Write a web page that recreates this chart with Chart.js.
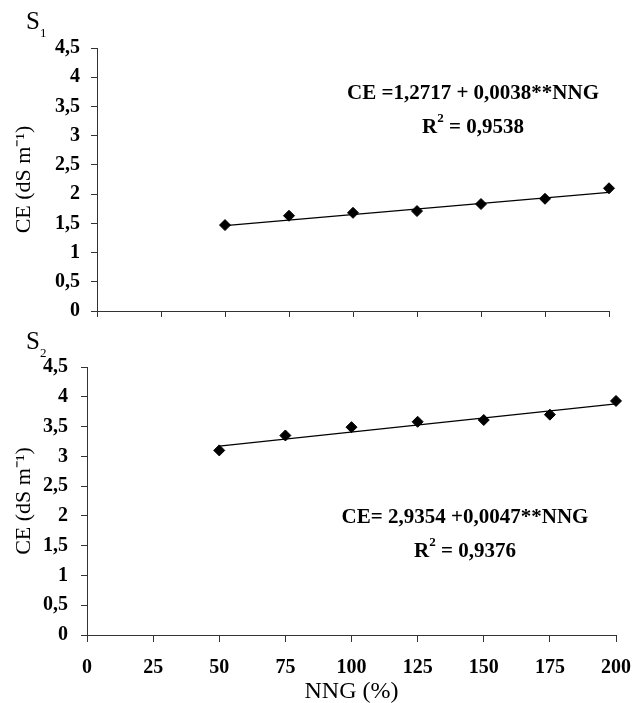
<!DOCTYPE html>
<html>
<head>
<meta charset="utf-8">
<script src="https://cdn.jsdelivr.net/npm/chart.js@4.4.1/dist/chart.umd.min.js"></script>
<style>
  html, body { margin: 0; padding: 0; background: #ffffff; }
  #wrap { position: relative; width: 634px; height: 703px; overflow: hidden; }
  canvas { position: absolute; left: 0; }
  #c1 { top: 0; }
  #c2 { top: 330px; }
</style>
</head>
<body>
<div id="wrap">
  <canvas id="c1" width="634" height="330"></canvas>
  <canvas id="c2" width="634" height="373"></canvas>
</div>
<script>
// ---------- data ----------
const xTickValues = [0, 25, 50, 75, 100, 125, 150, 175, 200];
const xTickLabels = ['0', '25', '50', '75', '100', '125', '150', '175', '200'];
const yTickLabels = ['0', '0,5', '1', '1,5', '2', '2,5', '3', '3,5', '4', '4,5'];
const nngDoses = [50, 75, 100, 125, 150, 175, 200];
const ceS1 = [1.47, 1.63, 1.68, 1.71, 1.83, 1.92, 2.10];
const ceS2 = [3.10, 3.35, 3.49, 3.58, 3.61, 3.70, 3.93];
const trendX = [50, 200];
const trendS1 = [1.46, 2.03];
const trendS2 = [3.17, 3.88];
const panelS1 = ['S', '1'];
const panelS2 = ['S', '2'];
const eqS1 = 'CE =1,2717 + 0,0038**NNG';
const r2S1 = ' = 0,9538';
const eqS2 = 'CE= 2,9354 +0,0047**NNG';
const r2S2 = ' = 0,9376';
const yTitle = 'CE (dS m\u207B\u00B9)';
const xTitle = 'NNG (%)';

// ---------- helpers ----------
const SERIF = "'Liberation Serif', 'Times New Roman', Times, serif";
const AXIS_COLOR = '#333333';

const richText = {
  id: 'richText',
  afterDraw(chart, args, opts) {
    const ctx = chart.ctx;
    const fontOf = p => (p.bold ? 'bold ' : '') + p.size + 'px ' + SERIF;
    (opts.items || []).forEach(item => {
      ctx.save();
      ctx.fillStyle = '#000000';
      ctx.textBaseline = 'alphabetic';
      ctx.textAlign = 'left';
      const widths = item.parts.map(p => { ctx.font = fontOf(p); return ctx.measureText(p.text).width; });
      const total = widths.reduce((a, b) => a + b, 0);
      let x = item.align === 'center' ? item.x - total / 2 : item.x;
      item.parts.forEach((p, i) => {
        ctx.font = fontOf(p);
        ctx.fillText(p.text, x, item.y + (p.dy || 0));
        x += widths[i];
      });
      ctx.restore();
    });
  }
};

function toPoints(xs, ys) { return xs.map((x, i) => ({ x: x, y: ys[i] })); }

function makeChart(canvasId, values, trend, cfg) {
  return new Chart(document.getElementById(canvasId), {
    type: 'scatter',
    data: {
      datasets: [
        {
          label: 'CE',
          data: toPoints(nngDoses, values),
          pointStyle: 'rectRot',
          pointRadius: 5.5,
          pointBorderWidth: 1,
          backgroundColor: '#000000',
          borderColor: '#000000',
          showLine: false,
          clip: false
        },
        {
          label: 'trend',
          data: toPoints(trendX, trend),
          showLine: true,
          pointRadius: 0,
          borderColor: '#000000',
          borderWidth: 1.3,
          fill: false,
          clip: false
        }
      ]
    },
    options: {
      responsive: false,
      animation: false,
      events: [],
      layout: { padding: cfg.padding, autoPadding: false },
      plugins: {
        legend: { display: false },
        tooltip: { enabled: false },
        richText: { items: cfg.texts }
      },
      scales: {
        x: {
          type: 'linear',
          min: 0, max: 200,
          afterBuildTicks: s => { s.ticks = xTickValues.map(v => ({ value: v })); },
          afterFit: s => {
            s.height = cfg.xHeight;
            s.paddingLeft = 0; s.paddingRight = 0; s.paddingTop = 0; s.paddingBottom = 0;
          },
          grid: { display: true, drawOnChartArea: false, drawTicks: true, tickLength: cfg.xTickLen, color: AXIS_COLOR, lineWidth: 1 },
          border: { display: true, color: AXIS_COLOR, width: 1 },
          ticks: {
            display: cfg.showXLabels,
            padding: 14,
            color: '#000000',
            font: { family: SERIF, size: 20, weight: 'bold', lineHeight: 1.2 },
            callback: (v, i) => xTickLabels[i]
          },
          title: {
            display: cfg.showXLabels,
            text: xTitle,
            color: '#000000',
            padding: { top: 0, bottom: 0 },
            font: { family: SERIF, size: 24, weight: 'normal', lineHeight: 0.95 }
          }
        },
        y: {
          type: 'linear',
          min: 0, max: 4.5,
          afterBuildTicks: s => { s.ticks = yTickLabels.map((t, i) => ({ value: i * 0.5 })); },
          afterFit: s => {
            s.width = cfg.yWidth;
            s.paddingLeft = 0; s.paddingRight = 0; s.paddingTop = 0; s.paddingBottom = 0;
          },
          grid: { display: true, drawOnChartArea: false, drawTicks: true, tickLength: 6, color: AXIS_COLOR, lineWidth: 1 },
          border: { display: true, color: AXIS_COLOR, width: 1 },
          ticks: {
            padding: cfg.yTickPad,
            color: '#000000',
            font: { family: SERIF, size: 20, weight: 'bold', lineHeight: 1.2 },
            callback: (v, i) => yTickLabels[i]
          },
          title: {
            display: true,
            text: yTitle,
            color: '#000000',
            padding: { top: 11, bottom: 0 },
            font: { family: SERIF, size: 22, weight: 'normal', lineHeight: 1.2 }
          }
        }
      }
    },
    plugins: [richText]
  });
}

makeChart('c1', ceS1, trendS1, {
  padding: { top: 48, right: 25, bottom: 0, left: 0 },
  xHeight: 19, yWidth: 97, xTickLen: 6, yTickPad: 11, showXLabels: false,
  texts: [
    { x: 26, y: 29, align: 'left', parts: [
      { text: panelS1[0], size: 25 }, { text: panelS1[1], size: 13, dy: 8 } ] },
    { x: 473, y: 99, align: 'center', parts: [ { text: eqS1, size: 21, bold: true } ] },
    { x: 473, y: 133, align: 'center', parts: [
      { text: 'R', size: 21, bold: true }, { text: '2', size: 13, bold: true, dy: -11 },
      { text: r2S1, size: 21, bold: true } ] }
  ]
});

makeChart('c2', ceS2, trendS2, {
  padding: { top: 37, right: 18, bottom: 0, left: 0 },
  xHeight: 68, yWidth: 87, xTickLen: 7, yTickPad: 13, showXLabels: true,
  texts: [
    { x: 26, y: 19, align: 'left', parts: [
      { text: panelS2[0], size: 25 }, { text: panelS2[1], size: 13, dy: 8 } ] },
    { x: 465, y: 193, align: 'center', parts: [ { text: eqS2, size: 21, bold: true } ] },
    { x: 465, y: 227, align: 'center', parts: [
      { text: 'R', size: 21, bold: true }, { text: '2', size: 13, bold: true, dy: -11 },
      { text: r2S2, size: 21, bold: true } ] }
  ]
});
</script>
</body>
</html>
